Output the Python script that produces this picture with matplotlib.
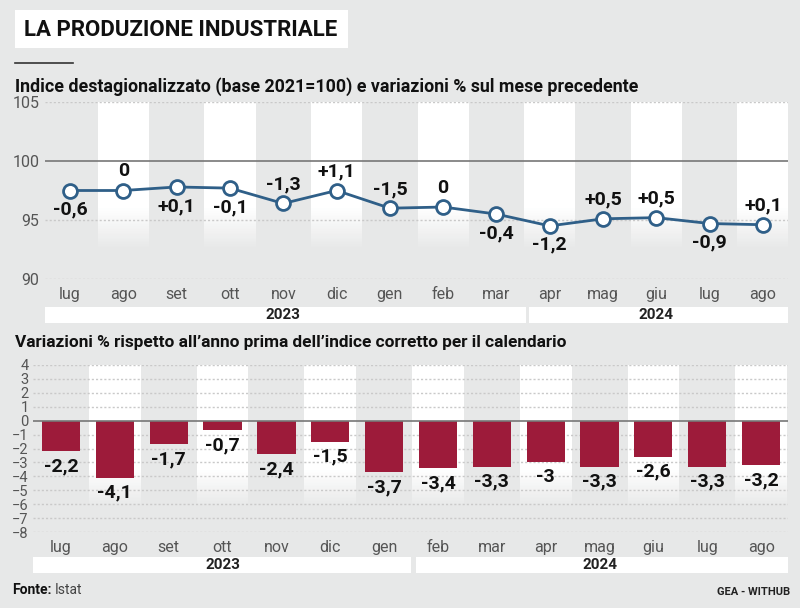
import matplotlib
matplotlib.use('Agg')
import matplotlib.pyplot as plt
from matplotlib.patches import Rectangle
from matplotlib.lines import Line2D

# fonts: narrow look of the original
plt.rcParams['font.family'] = ['Roboto', 'DejaVu Sans']

# data
months = ['lug', 'ago', 'set', 'ott', 'nov', 'dic', 'gen', 'feb', 'mar', 'apr', 'mag', 'giu', 'lug', 'ago']
index_sa = [97.5, 97.5, 97.8, 97.7, 96.4, 97.5, 96.0, 96.1, 95.5, 94.5, 95.1, 95.2, 94.7, 94.6]
mom_change = [-0.6, 0, 0.1, -0.1, -1.3, 1.1, -1.5, 0, -0.4, -1.2, 0.5, 0.5, -0.9, 0.1]
mom_above = [False, True, False, False, True, True, True, True, False, False, True, True, False, True]
yoy_change = [-2.2, -4.1, -1.7, -0.7, -2.4, -1.5, -3.7, -3.4, -3.3, -3.0, -3.3, -2.6, -3.3, -3.2]
years = ['2023', '2024']

BG = '#e7e8e8'
LINE_C = '#2f5f88'
BAR_C = '#9d1b3a'
TXT_GRAY = '#555555'


def fmt(v, sign=False):
    s = ('%.1f' % v).rstrip('0').rstrip('.') if v != 0 else '0'
    s = s.replace('.', ',')
    if sign and v > 0:
        s = '+' + s
    return s


def white_bands(ax, solid_to, fade_to, steps=25):
    # white columns on alternate months, fading out towards the bottom
    for i in range(1, len(months), 2):
        ax.axvspan(i - 0.48, i + 0.48, ymin=solid_to, ymax=1, color='white', lw=0, zorder=0)
        h = (solid_to - fade_to) / steps
        for k in range(steps):
            a = 1 - (k + 1) / (steps + 1)
            ax.axvspan(i - 0.48, i + 0.48, ymin=solid_to - (k + 1) * h, ymax=solid_to - k * h,
                       color='white', alpha=a, lw=0, zorder=0)


def year_bars(fig, ax, spans, label_pos, y_px):
    # white strips with the year under the month labels
    trans = ax.get_xaxis_transform()
    for (x0, x1), lab, lp in zip(spans, years, label_pos):
        r = Rectangle((x0, y_px[0]), x1 - x0, y_px[1] - y_px[0], transform=trans,
                      facecolor='white', edgecolor='none', clip_on=False, zorder=1)
        ax.add_patch(r)
        ax.text(lp, (y_px[0] + y_px[1]) / 2, lab, transform=trans, ha='center', va='center',
                fontsize=11, fontweight='bold', color='#222222', clip_on=False, zorder=2)


fig = plt.figure(figsize=(8, 6.08), dpi=100)
fig.patch.set_facecolor(BG)

# title box
fig.patches.append(Rectangle((15 / 800, 1 - 48 / 608), 333 / 800, 38 / 608, transform=fig.transFigure,
                             facecolor='white', edgecolor='none'))
fig.text(24 / 800, 1 - 30 / 608, 'LA PRODUZIONE INDUSTRIALE', fontsize=16, fontweight='bold',
         color='#111111', va='center', ha='left')
fig.lines.append(Line2D([15 / 800, 73 / 800], [1 - 63 / 608] * 2, transform=fig.transFigure,
                        color='#333333', lw=1.2))
fig.text(15 / 800, 1 - 87 / 608, 'Indice destagionalizzato (base 2021=100) e variazioni % sul mese precedente',
         fontsize=12.8, fontweight='bold', color='#111111', va='center', ha='left')
fig.text(15 / 800, 1 - 343 / 608, 'Variazioni % rispetto all\u2019anno prima dell\u2019indice corretto per il calendario',
         fontsize=12.4, fontweight='bold', color='#111111', va='center', ha='left')
fig.text(12 / 800, 1 - 590 / 608, 'Fonte:', fontsize=10, fontweight='bold', color='#111111', va='center')
fig.text(55 / 800, 1 - 590 / 608, 'Istat', fontsize=10, color='#444444', va='center')
fig.text(790 / 800, 1 - 592 / 608, 'GEA - WITHUB', fontsize=8, fontweight='bold', color='#222222',
         va='center', ha='right')

x = list(range(len(months)))

# ---- top chart: seasonally adjusted index
ax1 = fig.add_axes([45 / 800, 1 - 279 / 608, 743 / 800, 177 / 608])
ax1.set_facecolor(BG)
ax1.set_xlim(-0.47, 13.47)
ax1.set_ylim(90, 105)
white_bands(ax1, 0.40, 0.17)
for yv in [90, 95, 105]:
    ax1.axhline(yv, color='#c9c9c9', lw=1, ls=(0, (1.5, 1.5)), zorder=1)
ax1.axhline(100, color='#777777', lw=1.2, zorder=1)
ax1.plot(x, index_sa, color=LINE_C, lw=2, zorder=3, marker='o', markersize=10,
         markerfacecolor='white', markeredgecolor=LINE_C, markeredgewidth=2)
for xi, yi, v, up in zip(x, index_sa, mom_change, mom_above):
    ax1.annotate(fmt(v, sign=True), (xi, yi), xytext=(0, 19 if up else -19), textcoords='offset pixels',
                 ha='center', va='center', fontsize=14, fontweight='bold', color='#111111', zorder=4)
ax1.set_yticks([90, 95, 100, 105])
ax1.set_xticks(x)
ax1.set_xticklabels(months)
ax1.tick_params(length=0, labelsize=11.5, labelcolor=TXT_GRAY, pad=6)
ax1.tick_params(axis='y', pad=4)
for s in ax1.spines.values():
    s.set_visible(False)
year_bars(fig, ax1, [(-0.47, 8.55), (8.62, 13.47)], [4.0, 11.0], (-28 / 177, -44 / 177))

# ---- bottom chart: year on year change
ax2 = fig.add_axes([33 / 800, 1 - 532 / 608, 755 / 800, 167 / 608])
ax2.set_facecolor(BG)
ax2.set_xlim(-0.52, 13.5)
ax2.set_ylim(-8, 4)
white_bands(ax2, 0.37, 0.15)
for yv in range(-8, 5):
    if yv != 0:
        ax2.axhline(yv, color='#c9c9c9', lw=1, ls=(0, (1.5, 1.5)), zorder=1)
ax2.bar(x, yoy_change, width=0.71, color=BAR_C, zorder=2)
ax2.axhline(0, color='#777777', lw=1.2, zorder=3)
for xi, v in zip(x, yoy_change):
    ax2.annotate(fmt(v), (xi, v), xytext=(0, -15), textcoords='offset pixels',
                 ha='center', va='center', fontsize=14, fontweight='bold', color='#111111', zorder=4)
ax2.set_yticks(range(-8, 5))
ax2.set_xticks(x)
ax2.set_xticklabels(months)
ax2.tick_params(length=0, labelsize=11.5, labelcolor=TXT_GRAY, pad=6)
ax2.tick_params(axis='y', labelsize=10.5, pad=3)
for s in ax2.spines.values():
    s.set_visible(False)
year_bars(fig, ax2, [(-0.52, 6.49), (6.6, 13.5)], [3.0, 10.0], (-25 / 167, -41 / 167))

fig.savefig('out.png', dpi=100, facecolor=BG)
